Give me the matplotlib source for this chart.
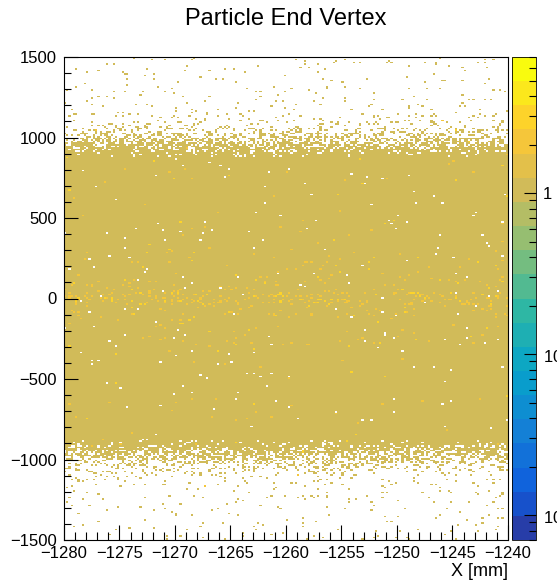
import numpy as np
import matplotlib.pyplot as plt
from matplotlib.colors import ListedColormap, LinearSegmentedColormap, LogNorm
from matplotlib.ticker import FixedLocator, LogLocator, MultipleLocator, NullFormatter

plt.rcParams['font.family'] = ['Liberation Sans', 'DejaVu Sans']

# histogram binning
x_range = (-1280, -1240)
y_range = (-1500, 1500)
n_xbins = 200
n_ybins = 300

# fraction of non-empty bins in each Y band
occ_edges = [-1500, -1300, -1150, -1100, -1060, -1030, -1000, -970, -940, -910, -880,
             880, 910, 940, 970, 1000, 1030, 1060, 1100, 1150, 1300, 1500]
occ_frac = [0.02, 0.03, 0.06, 0.12, 0.22, 0.35, 0.50, 0.65, 0.80, 0.92,
            0.995,
            0.92, 0.80, 0.65, 0.50, 0.35, 0.22, 0.12, 0.06, 0.03, 0.02]

# fraction of filled bins holding 2+ entries in each Y band
hot_edges = [-1500, -300, -120, -40, 40, 120, 300, 1500]
hot_frac = [0.004, 0.015, 0.04, 0.14, 0.04, 0.015, 0.004]

z_min, z_max = 0.007, 7.0
n_contours = 20

# ROOT kBird palette
bird_stops = [0.0, 0.125, 0.25, 0.375, 0.5, 0.625, 0.75, 0.875, 1.0]
bird_r = [0.2082, 0.0592, 0.0780, 0.0232, 0.1802, 0.5301, 0.8186, 0.9956, 0.9764]
bird_g = [0.1664, 0.3599, 0.5041, 0.6419, 0.7178, 0.7492, 0.7328, 0.7862, 0.9832]
bird_b = [0.5293, 0.8684, 0.8385, 0.7914, 0.6425, 0.4662, 0.3499, 0.1968, 0.0539]

bird = LinearSegmentedColormap.from_list(
    'bird', list(zip(bird_stops, zip(bird_r, bird_g, bird_b))), N=255)
band_colors = [bird(int((k + 0.99) * 255 / n_contours)) for k in range(n_contours)]
cmap = ListedColormap(band_colors)
cmap.set_bad('white')

# build bin contents: dither the band fractions onto the bin grid
x_edges = np.linspace(*x_range, n_xbins + 1)
y_edges = np.linspace(*y_range, n_ybins + 1)
y_mid = 0.5 * (y_edges[:-1] + y_edges[1:])


def dither(a, b, salt):
    # integer hash of the bin index -> threshold in [0, 1)
    h = (a.astype(np.uint64) * np.uint64(374761393)
         + b.astype(np.uint64) * np.uint64(668265263)
         + np.uint64(salt) * np.uint64(2246822519)) & np.uint64(0xffffffff)
    h = ((h ^ (h >> np.uint64(13))) * np.uint64(1274126177)) & np.uint64(0xffffffff)
    h = ((h ^ (h >> np.uint64(16))) * np.uint64(2654435761)) & np.uint64(0xffffffff)
    h = h ^ (h >> np.uint64(15))
    return h.astype(np.float64) / 2.0 ** 32


ii = np.broadcast_to(np.arange(n_xbins)[None, :], (n_ybins, n_xbins))
jj = np.broadcast_to(np.arange(n_ybins)[:, None], (n_ybins, n_xbins))
fill_row = np.array(occ_frac)[np.clip(np.digitize(y_mid, occ_edges) - 1, 0, len(occ_frac) - 1)]
hot_row = np.array(hot_frac)[np.clip(np.digitize(y_mid, hot_edges) - 1, 0, len(hot_frac) - 1)]

counts = np.where(dither(ii, jj, 1) < fill_row[:, None], 1.0, 0.0)
hot_thr = dither(ii, jj, 7)
counts[(counts > 0) & (hot_thr < hot_row[:, None])] = 2.0
counts[(counts > 0) & (hot_thr < 0.25 * hot_row[:, None])] = 3.0
counts = np.ma.masked_equal(counts, 0.0)

fig = plt.figure(figsize=(5.57, 5.81), dpi=100)
ax = fig.add_axes([64 / 557, 1 - 540 / 581, 444 / 557, 483 / 581])
mesh = ax.pcolormesh(x_edges, y_edges, counts, cmap=cmap,
                     norm=LogNorm(vmin=z_min, vmax=z_max),
                     shading='flat', antialiased=False, edgecolors='none')

ax.set_xlim(*x_range)
ax.set_ylim(*y_range)
ax.xaxis.set_major_locator(MultipleLocator(5))
ax.xaxis.set_minor_locator(MultipleLocator(1))
ax.yaxis.set_major_locator(MultipleLocator(500))
ax.yaxis.set_minor_locator(MultipleLocator(100))
ax.tick_params(which='both', direction='in', top=False, right=False,
               labelsize=12, width=0.8)
ax.tick_params(axis='x', which='major', length=11, pad=4)
ax.tick_params(axis='x', which='minor', length=5.5)
ax.tick_params(axis='y', which='major', length=10, pad=5)
ax.tick_params(axis='y', which='minor', length=5)
for s in ax.spines.values():
    s.set_linewidth(0.8)

ax.set_title('Particle End Vertex', fontsize=17, pad=23)
ax.set_xlabel('X [mm]', fontsize=13, loc='right', labelpad=2)

# colour palette axis
cax = fig.add_axes([512 / 557, 1 - 540 / 581, 24 / 557, 483 / 581])
cb = fig.colorbar(mesh, cax=cax)
cb.outline.set_linewidth(0.6)
cax.yaxis.set_major_locator(FixedLocator([0.01, 0.1, 1]))
cax.yaxis.set_minor_locator(LogLocator(base=10, subs=np.arange(2, 10)))
cax.yaxis.set_minor_formatter(NullFormatter())
cax.set_yticklabels(['10$^{-2}$', '10$^{-1}$', '1'])
cax.tick_params(which='both', direction='in', right=True, left=False,
                labelsize=12, width=0.8, pad=5)
cax.tick_params(which='major', length=9)
cax.tick_params(which='minor', length=5)

fig.savefig('out.png', dpi=100)
